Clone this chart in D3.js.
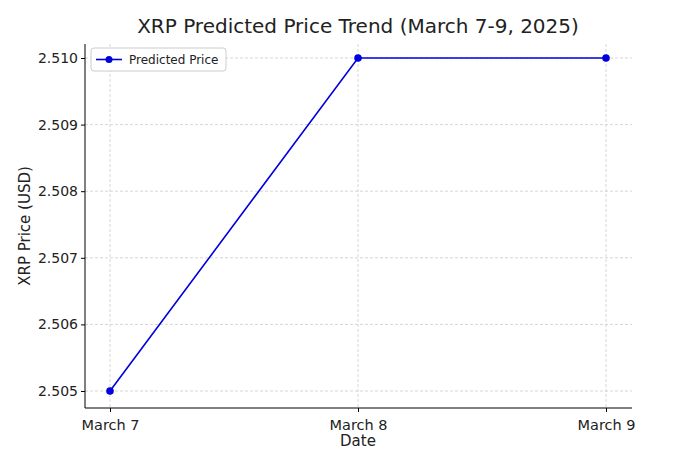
<!DOCTYPE html>
<html><head><meta charset="utf-8">
<script src="https://cdn.jsdelivr.net/npm/d3@7"></script>
<style>body{margin:0;background:#fff}text{font-family:"DejaVu Sans",sans-serif}</style>
</head><body><svg id="c" width="680" height="453"></svg>
<script>
const dates=["March 7","March 8","March 9"];
const prices=[2.505,2.510,2.510];
const yTicks=[2.505,2.506,2.507,2.508,2.509,2.510];
const svg=d3.select("#c");
const L=85,R=632,T=44,B=408;
const x=d3.scalePoint().domain(dates).range([110,606]);
const y=d3.scaleLinear().domain([2.505,2.510]).range([391,58]);
const g=svg.append("g");
g.selectAll(".gx").data(dates).enter().append("line").attr("x1",d=>x(d)).attr("x2",d=>x(d)).attr("y1",T).attr("y2",B).attr("stroke","#ccc").attr("stroke-dasharray","3,2").attr("stroke-width",0.8);
g.selectAll(".gy").data(yTicks).enter().append("line").attr("x1",L).attr("x2",R).attr("y1",d=>y(d)).attr("y2",d=>y(d)).attr("stroke","#ccc").attr("stroke-dasharray","3,2").attr("stroke-width",0.8);
const xa=svg.append("g").attr("transform",`translate(0,${B})`).call(d3.axisBottom(x).tickSizeOuter(0).tickSize(4));
xa.select(".domain").attr("d",`M${L},0H${R}`);
xa.selectAll("text").attr("font-size",14.5).attr("fill","#222").attr("dy","1em");
const ya=svg.append("g").attr("transform",`translate(${L},0)`).call(d3.axisLeft(y).tickValues(yTicks).tickFormat(d3.format(".3f")).tickSize(4).tickSizeOuter(0));
ya.select(".domain").attr("d",`M0,${T}V${B}`);
ya.selectAll("text").attr("font-size",14).attr("fill","#222");
svg.append("path").datum(prices).attr("fill","none").attr("stroke","#0000dd").attr("stroke-width",1.6)
 .attr("d",d3.line().x((d,i)=>x(dates[i])).y(d=>y(d)));
svg.selectAll(".pt").data(prices).enter().append("circle").attr("cx",(d,i)=>x(dates[i])).attr("cy",d=>y(d)).attr("r",3.8).attr("fill","#0000dd");
svg.append("text").attr("x",358).attr("y",33).attr("text-anchor","middle").attr("font-size",20).attr("fill","#222").text("XRP Predicted Price Trend (March 7-9, 2025)");
svg.append("text").attr("x",358).attr("y",446).attr("text-anchor","middle").attr("font-size",15).attr("fill","#222").text("Date");
svg.append("text").attr("transform","translate(30,226) rotate(-90)").attr("text-anchor","middle").attr("font-size",15).attr("fill","#222").text("XRP Price (USD)");
const lg=svg.append("g");
lg.append("rect").attr("x",91).attr("y",48).attr("width",135).attr("height",23).attr("rx",3).attr("fill","#fff").attr("stroke","#ccc");
lg.append("line").attr("x1",96).attr("x2",122).attr("y1",59.5).attr("y2",59.5).attr("stroke","#0000dd").attr("stroke-width",1.6);
lg.append("circle").attr("cx",109).attr("cy",59.5).attr("r",3.5).attr("fill","#0000dd");
lg.append("text").attr("x",129).attr("y",64).attr("font-size",12).attr("fill","#222").text("Predicted Price");
</script></body></html>
